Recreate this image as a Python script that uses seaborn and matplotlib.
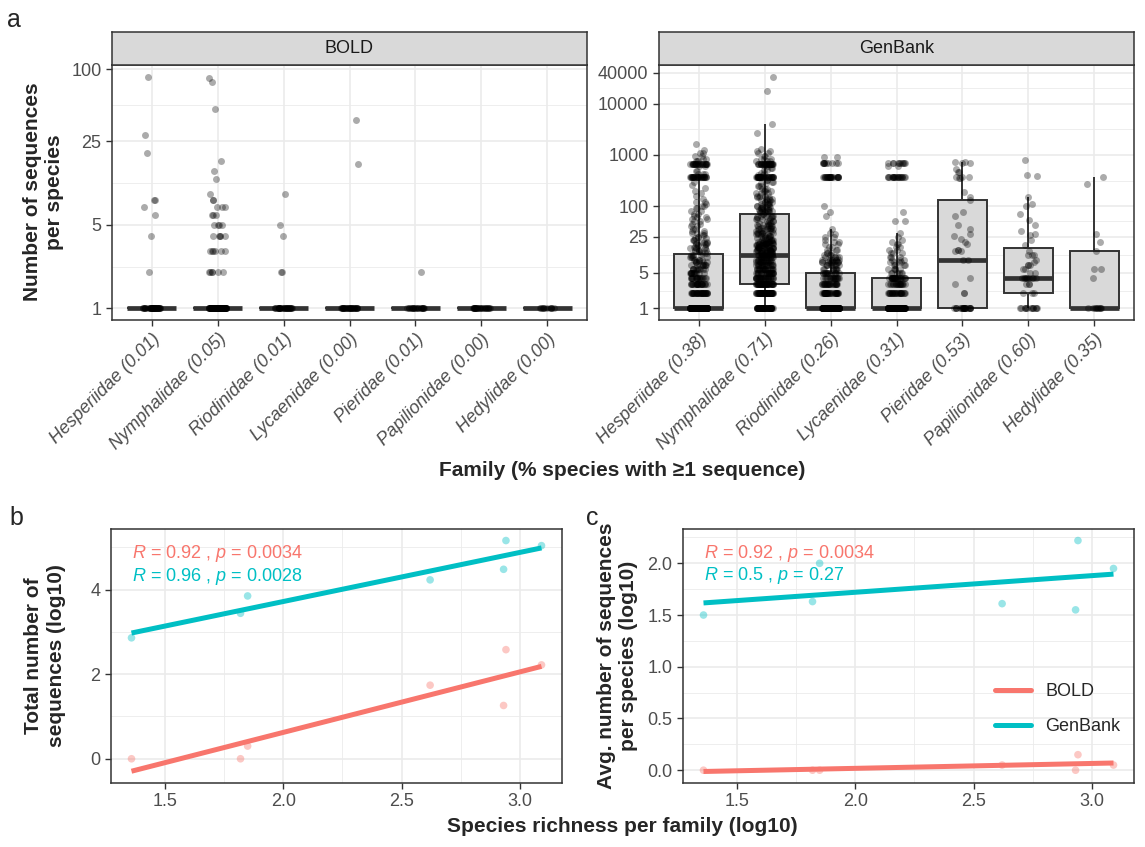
import numpy as np
import pandas as pd
import matplotlib
matplotlib.use("Agg")
import matplotlib.pyplot as plt
import seaborn as sns
from matplotlib.lines import Line2D

# ---- panel a: sequences per species, (value, number of species) ----
families = ["Hesperiidae", "Nymphalidae", "Riodinidae", "Lycaenidae",
            "Pieridae", "Papilionidae", "Hedylidae"]
bold_prop = ["0.01", "0.05", "0.01", "0.00", "0.01", "0.00", "0.00"]
genbank_prop = ["0.38", "0.71", "0.26", "0.31", "0.53", "0.60", "0.35"]

bold_hesperiidae = [(1, 40), (2, 1), (4, 1), (6, 1), (7, 1), (8, 2), (20, 1), (28, 1), (87, 1)]
bold_nymphalidae = [(1, 120), (2, 6), (3, 6), (4, 5), (5, 4), (6, 3), (7, 3), (8, 2), (9, 1),
                    (12, 1), (14, 1), (17, 1), (47, 1), (79, 1), (85, 1)]
bold_riodinidae = [(1, 30), (2, 2), (4, 1), (5, 1), (9, 1)]
bold_lycaenidae = [(1, 30), (16, 1), (38, 1)]
bold_pieridae = [(1, 20), (2, 1)]
bold_papilionidae = [(1, 25)]
bold_hedylidae = [(1, 10)]

gb_hesperiidae = [(1, 290), (2, 35), (3, 25), (4, 18), (5, 13), (6, 10), (7, 8), (8, 6), (9, 5),
                  (10, 5), (11, 3), (12, 3), (13, 3), (14, 3), (15, 3), (16, 3), (17, 2), (18, 3),
                  (19, 2), (20, 3), (22, 3), (24, 2), (25, 2), (27, 2), (30, 3), (33, 2), (36, 2),
                  (40, 2), (45, 2), (50, 2), (55, 2), (60, 2), (65, 1), (70, 2), (80, 2), (90, 2),
                  (100, 2), (110, 1), (120, 2), (140, 1), (160, 1), (180, 1), (200, 1), (230, 1),
                  (260, 1), (300, 1), (370, 28), (420, 3), (480, 2), (600, 2), (680, 24), (750, 3),
                  (850, 2), (950, 2), (1100, 2), (1250, 1), (1600, 1)]
gb_nymphalidae = [(1, 60), (2, 60), (3, 45), (4, 30), (5, 25), (6, 20), (7, 16), (8, 14), (9, 12),
                  (10, 10), (11, 10), (12, 10), (13, 9), (14, 9), (15, 9), (16, 8), (17, 8), (18, 7),
                  (19, 7), (20, 7), (22, 7), (24, 6), (26, 5), (28, 5), (30, 5), (32, 5), (35, 5),
                  (38, 5), (40, 4), (43, 4), (46, 4), (50, 4), (55, 4), (60, 4), (65, 4), (70, 3),
                  (75, 4), (80, 4), (85, 4), (90, 4), (95, 3), (100, 4), (110, 4), (120, 4),
                  (130, 3), (140, 3), (150, 3), (160, 3), (180, 3), (200, 3), (220, 3), (250, 3),
                  (280, 2), (300, 2), (330, 2), (370, 34), (400, 2), (450, 2), (500, 2), (550, 2),
                  (600, 2), (680, 28), (750, 3), (850, 3), (950, 2), (1100, 2), (1200, 2),
                  (1300, 1), (2700, 1), (4100, 1), (18000, 1), (34000, 1)]
gb_riodinidae = [(1, 210), (2, 35), (3, 25), (4, 18), (5, 14), (6, 8), (7, 8), (8, 10), (9, 8),
                 (10, 5), (11, 3), (12, 3), (14, 3), (16, 2), (18, 2), (20, 2), (22, 1), (25, 2),
                 (28, 1), (30, 1), (35, 1), (65, 1), (75, 1), (100, 1), (370, 25), (700, 10), (900, 2)]
gb_lycaenidae = [(1, 155), (2, 25), (3, 20), (4, 25), (5, 6), (6, 5), (7, 4), (8, 4), (9, 3),
                 (10, 3), (12, 3), (14, 2), (16, 2), (18, 2), (20, 1), (22, 1), (25, 1), (30, 1),
                 (50, 2), (77, 1), (370, 20), (600, 2), (700, 10)]
gb_pieridae = [(1, 23), (2, 2), (3, 1), (4, 1), (9, 2), (13, 2), (14, 2), (18, 1), (20, 1),
               (23, 1), (26, 1), (29, 1), (35, 1), (42, 1), (63, 1), (76, 1), (134, 1), (150, 1),
               (185, 1), (350, 2), (375, 3), (460, 2), (520, 1), (700, 2), (740, 2)]
gb_papilionidae = [(1, 13), (2, 3), (3, 3), (4, 9), (5, 2), (6, 2), (7, 3), (8, 1), (9, 1),
                   (11, 3), (13, 1), (17, 1), (22, 1), (27, 1), (28, 1), (32, 1), (42, 1), (53, 1),
                   (70, 1), (100, 1), (110, 1), (150, 1), (380, 1), (400, 1), (800, 1)]
gb_hedylidae = [(1, 9), (4, 1), (6, 2), (13, 1), (20, 1), (28, 1), (265, 1), (370, 1)]

bold_ticks = [1, 5, 25, 100]
genbank_ticks = [1, 5, 25, 100, 1000, 10000, 40000]

# ---- panels b, c: per family (log10) ----
richness_log = [1.36, 1.82, 1.85, 2.62, 2.93, 2.94, 3.09]
total_bold = [0.0, 0.0, 0.30, 1.74, 1.26, 2.58, 2.22]
total_genbank = [2.86, 3.44, 3.85, 4.23, 4.48, 5.16, 5.04]
avg_bold = [0.0, 0.0, 0.0, 0.05, 0.0, 0.15, 0.05]
avg_genbank = [1.50, 1.63, 2.00, 1.61, 1.55, 2.22, 1.95]
cor_b = ["0.92 , $p$ = 0.0034", "0.96 , $p$ = 0.0028"]
cor_c = ["0.92 , $p$ = 0.0034", "0.5 , $p$ = 0.27"]

db_colors = {"BOLD": "#F8766D", "GenBank": "#00BFC4"}

sns.set_theme(style="white")
plt.rcParams["font.family"] = ["Liberation Sans", "DejaVu Sans"]
plt.rcParams["mathtext.fontset"] = "custom"
plt.rcParams["mathtext.rm"] = "Liberation Sans"
plt.rcParams["mathtext.it"] = "Liberation Sans:italic"

TICK = 13
TITLE = 15

W, H = 1145, 847
fig = plt.figure(figsize=(W / 100, H / 100), dpi=100)
np.random.seed(0)  # jitter only


def box(l, t, r, b):
    return [l / W, 1 - b / H, (r - l) / W, (b - t) / H]


def style_axis(ax):
    for s in ax.spines.values():
        s.set_color("#333333")
        s.set_linewidth(1.1)
    ax.tick_params(length=4, width=1, color="#333333", labelcolor="#4D4D4D",
                   labelsize=TICK, left=True, bottom=True)
    ax.set_axisbelow(True)


def expand(pairs):
    return np.repeat([v for v, n in pairs], [n for v, n in pairs])


def box_panel(ax, data, props, ticks):
    labels = [f"{f} ({p})" for f, p in zip(families, props)]
    rows = [(lab, v) for lab, pairs in zip(labels, data) for v in expand(pairs)]
    df = pd.DataFrame(rows, columns=["family", "n"])
    sns.boxplot(data=df, x="family", y="n", order=labels, log_scale=True, width=0.75,
                showfliers=False, showcaps=False, color="#D9D9D9", linecolor="#333333",
                linewidth=1.4, medianprops=dict(linewidth=3.4), ax=ax)
    sns.stripplot(data=df, x="family", y="n", order=labels, log_scale=True, jitter=0.13,
                  color="black", alpha=0.33, size=5, linewidth=0, ax=ax)
    lv = np.log10(df["n"])
    pad = (lv.max() - lv.min()) * 0.05
    ax.set_ylim(10 ** (lv.min() - pad), 10 ** (lv.max() + pad))
    ax.set_xlim(-0.6, len(labels) - 0.4)
    ax.set_yticks(ticks)
    ax.set_yticklabels([str(t) for t in ticks])
    lt = np.log10(ticks)
    ax.set_yticks(10 ** ((lt[:-1] + lt[1:]) / 2), minor=True)
    ax.yaxis.set_minor_formatter(plt.NullFormatter())
    ax.tick_params(axis="y", which="minor", length=0)
    ax.grid(True, which="major", color="#EBEBEB", linewidth=1.2)
    ax.grid(True, which="minor", axis="y", color="#EBEBEB", linewidth=0.6)
    ax.set_xticks(range(len(labels)))
    ax.set_xticklabels(labels, rotation=45, ha="right", va="top", rotation_mode="anchor",
                       style="italic")
    ax.set_xlabel("")
    ax.set_ylabel("")
    style_axis(ax)


def strip(l, r, text):
    sax = fig.add_axes(box(l, 32, r, 65))
    sax.set_facecolor("#D9D9D9")
    sax.set_xticks([])
    sax.set_yticks([])
    for s in sax.spines.values():
        s.set_color("#333333")
        s.set_linewidth(1.1)
    sax.text(0.5, 0.5, text, ha="center", va="center", fontsize=TICK, color="#1A1A1A",
             transform=sax.transAxes)


ax_bold = fig.add_axes(box(112, 65, 587, 320))
box_panel(ax_bold, [bold_hesperiidae, bold_nymphalidae, bold_riodinidae, bold_lycaenidae,
                    bold_pieridae, bold_papilionidae, bold_hedylidae], bold_prop, bold_ticks)
strip(112, 587, "BOLD")

ax_gb = fig.add_axes(box(659, 65, 1134, 320))
box_panel(ax_gb, [gb_hesperiidae, gb_nymphalidae, gb_riodinidae, gb_lycaenidae,
                  gb_pieridae, gb_papilionidae, gb_hedylidae], genbank_prop, genbank_ticks)
strip(659, 1134, "GenBank")

fig.text(622 / W, 1 - 470 / H, "Family (% species with \u22651 sequence)", ha="center",
         va="center", fontsize=TITLE, fontweight="bold")
fig.text(44 / W, 1 - 192 / H, "Number of sequences\nper species", ha="center", va="center",
         rotation=90, fontsize=TITLE, fontweight="bold", multialignment="center")


def scatter_panel(ax, bold_y, gb_y, yticks, yminor):
    df = pd.DataFrame({
        "x": richness_log * 2,
        "y": list(bold_y) + list(gb_y),
        "db": ["BOLD"] * len(bold_y) + ["GenBank"] * len(gb_y),
    })
    sns.scatterplot(data=df, x="x", y="y", hue="db", palette=db_colors, alpha=0.4, s=30,
                    linewidth=0, legend=False, ax=ax)
    for name, g in df.groupby("db"):
        sns.regplot(data=g, x="x", y="y", scatter=False, ci=None, color=db_colors[name],
                    line_kws=dict(linewidth=3.6, solid_capstyle="butt"), ax=ax)
    xr = df["x"].max() - df["x"].min()
    ax.set_xlim(df["x"].min() - 0.05 * xr, df["x"].max() + 0.05 * xr)
    ax.set_xticks([1.5, 2.0, 2.5, 3.0])
    ax.set_xticklabels(["1.5", "2.0", "2.5", "3.0"])
    ax.set_xticks([1.75, 2.25, 2.75], minor=True)
    ax.set_yticks(yticks)
    ax.set_yticks(yminor, minor=True)
    ax.tick_params(which="minor", length=0)
    ax.grid(True, which="major", color="#EBEBEB", linewidth=1.2)
    ax.grid(True, which="minor", color="#EBEBEB", linewidth=0.6)
    ax.set_xlabel("")
    ax.set_ylabel("")
    style_axis(ax)
    return df


ax_b = fig.add_axes(box(111, 529, 562, 783))
df_b = scatter_panel(ax_b, total_bold, total_genbank, [0, 2, 4], [1, 3, 5])
y1 = df_b["y"].max()
ax_b.set_ylim(-0.3 - 0.05 * (y1 + 0.3), y1 + 0.05 * (y1 + 0.3))
ax_b.set_yticklabels(["0", "2", "4"])

ax_c = fig.add_axes(box(683, 529, 1134, 783))
df_c = scatter_panel(ax_c, avg_bold, avg_genbank, [0, 0.5, 1, 1.5, 2],
                     [0.25, 0.75, 1.25, 1.75, 2.25])
y1 = df_c["y"].max()
ax_c.set_ylim(-0.012 - 0.05 * (y1 + 0.012), y1 + 0.05 * (y1 + 0.012))
ax_c.set_yticklabels(["0.0", "0.5", "1.0", "1.5", "2.0"])

for ax, cors, ys in [(ax_b, cor_b, (4.85, 4.32)), (ax_c, cor_c, (2.096, 1.878))]:
    for name, txt, yy in zip(["BOLD", "GenBank"], cors, ys):
        ax.text(min(richness_log), yy, "$R$ = " + txt, color=db_colors[name], fontsize=TICK,
                ha="left", va="center")

handles = [Line2D([0], [0], color=db_colors[k], linewidth=3.6) for k in ["BOLD", "GenBank"]]
ax_c.legend(handles, ["BOLD", "GenBank"], loc="center left", bbox_to_anchor=(0.655, 0.29),
            frameon=False, fontsize=TICK, handlelength=2.0, labelspacing=1.0)

fig.text(622 / W, 1 - 826 / H, "Species richness per family (log10)", ha="center",
         va="center", fontsize=TITLE, fontweight="bold")
fig.text(45 / W, 1 - 656 / H, "Total number of\nsequences (log10)", ha="center", va="center",
         rotation=90, fontsize=TITLE, fontweight="bold", multialignment="center")
fig.text(618 / W, 1 - 656 / H, "Avg. number of sequences\nper species (log10)", ha="center",
         va="center", rotation=90, fontsize=TITLE, fontweight="bold", multialignment="center")

fig.text(14 / W, 1 - 20 / H, "a", ha="center", va="center", fontsize=18)
fig.text(16 / W, 1 - 518 / H, "b", ha="center", va="center", fontsize=18)
fig.text(592 / W, 1 - 518 / H, "c", ha="center", va="center", fontsize=18)

fig.savefig("out.png", dpi=100)
